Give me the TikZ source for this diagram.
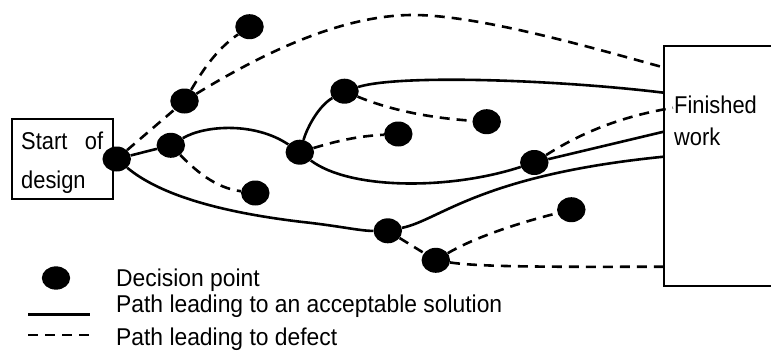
\documentclass[tikz,border=0pt]{standalone}
\usepackage{fontspec}
\setmainfont{Liberation Sans}
\newfontfamily\legfont[FakeStretch=0.94]{Liberation Sans}
\newfontfamily\boxfont[FakeStretch=0.9]{Liberation Sans}
\usetikzlibrary{shapes.geometric}
\begin{document}
\begin{tikzpicture}[x=1pt,y=-1pt,
 dot/.style={ellipse,fill=black,inner sep=0pt,minimum width=28.5pt,minimum height=25pt},
 okpath/.style={line width=2.6pt},
 defpath/.style={line width=2.6pt,dash pattern=on 10pt off 7pt},
 boxstyle/.style={draw,line width=2.2pt,rectangle,inner sep=0pt},
 lbl/.style={anchor=base west,inner sep=0pt,font=\legfont\fontsize{24.3}{29}\selectfont},
 boxlbl/.style={anchor=base west,inner sep=0pt,font=\boxfont\fontsize{24.3}{29}\selectfont}]
\useasboundingbox (0,0) rectangle (771,353);
\clip (0,0) rectangle (771,353);
% boxes
\node[boxstyle,minimum width=101.3pt,minimum height=79.7pt] (start) at (62.65,159.15) {};
\node[boxstyle,minimum width=136.3pt,minimum height=239.7pt] (fin) at (731.85,165.85) {};
\node[boxlbl] (t1) at (21,149.3) {\makebox[82pt][s]{Start of}};
\node[boxlbl] (t2) at (21,188.7) {design};
\node[boxlbl] (t3) at (674,113.3) {Finished};
\node[boxlbl] (t4) at (674,145) {work};
% decision points
\node[dot] (A) at (116.7,159) {};
\node[dot] (B) at (170.8,145.3) {};
\node[dot] (C) at (184.5,101) {};
\node[dot] (D) at (249.5,26.7) {};
\node[dot] (E) at (255.3,193) {};
\node[dot] (F) at (299.8,152.2) {};
\node[dot] (G) at (344.5,91.2) {};
\node[dot] (H) at (398.3,134) {};
\node[dot] (I) at (486.7,121.7) {};
\node[dot] (J) at (534.3,162.5) {};
\node[dot] (K) at (387.8,230.8) {};
\node[dot] (L) at (435.8,260.3) {};
\node[dot] (M) at (571.3,209.7) {};
% endpoints on finished box
\coordinate (f1) at (661,66.7);
\coordinate (f2) at (663.7,92.7);
\coordinate (f3) at (673,107.8);
\coordinate (f4) at (663.7,131.7);
\coordinate (f5) at (663.7,156.7);
\coordinate (f6) at (668,266.7);
% solid paths
\draw[okpath] (A) -- (B);
\draw[okpath] (B) .. controls (205,125) and (255,122) .. (F);
\draw[okpath] (F) .. controls (308,125) and (320,105) .. (G);
\draw[okpath] (G) .. controls (400,74) and (560,80) .. (f2);
\draw[okpath] (F) .. controls (350,190) and (450,190) .. (J);
\draw[okpath] (J) -- (f4);
\draw[okpath] (A) .. controls (160,195) and (220,212) .. (300,221.7) .. controls (340,226) and (360,231) .. (K);
\draw[okpath] (K) .. controls (440,220) and (480,175) .. (f5);
% dashed paths
\draw[defpath] (A) -- (C);
\draw[defpath] (C) .. controls (200,75) and (215,50) .. (D);
\draw[defpath] (C) .. controls (260,55) and (340,15) .. (413,15) .. controls (480,15) and (600,50) .. (f1);
\draw[defpath] (B) .. controls (195,170) and (215,188) .. (E);
\draw[defpath] (F) .. controls (340,140) and (360,136) .. (H);
\draw[defpath] (G) .. controls (390,110) and (430,118) .. (I);
\draw[defpath] (J) .. controls (570,140) and (610,118) .. (f3);
\draw[defpath] (K) -- (L);
\draw[defpath] (L) .. controls (470,240) and (510,225) .. (M);
\draw[defpath] (L) .. controls (480,267) and (550,267) .. (f6);
% legend
\node[dot,minimum width=28.3pt,minimum height=23.3pt] (ldot) at (56,278) {};
\coordinate (ls1) at (28,314.3);
\coordinate (ls2) at (90,314.3);
\coordinate (ld1) at (28,335);
\coordinate (ld2) at (90,335);
\draw[okpath] (ls1) -- (ls2);
\draw[defpath] (ld1) -- (ld2);
\node[lbl] (l1) at (116,286) {Decision point};
\node[lbl] (l2) at (116,312.7) {Path leading to an acceptable solution};
\node[lbl] (l3) at (116,345.3) {Path leading to defect};
\end{tikzpicture}
\end{document}
